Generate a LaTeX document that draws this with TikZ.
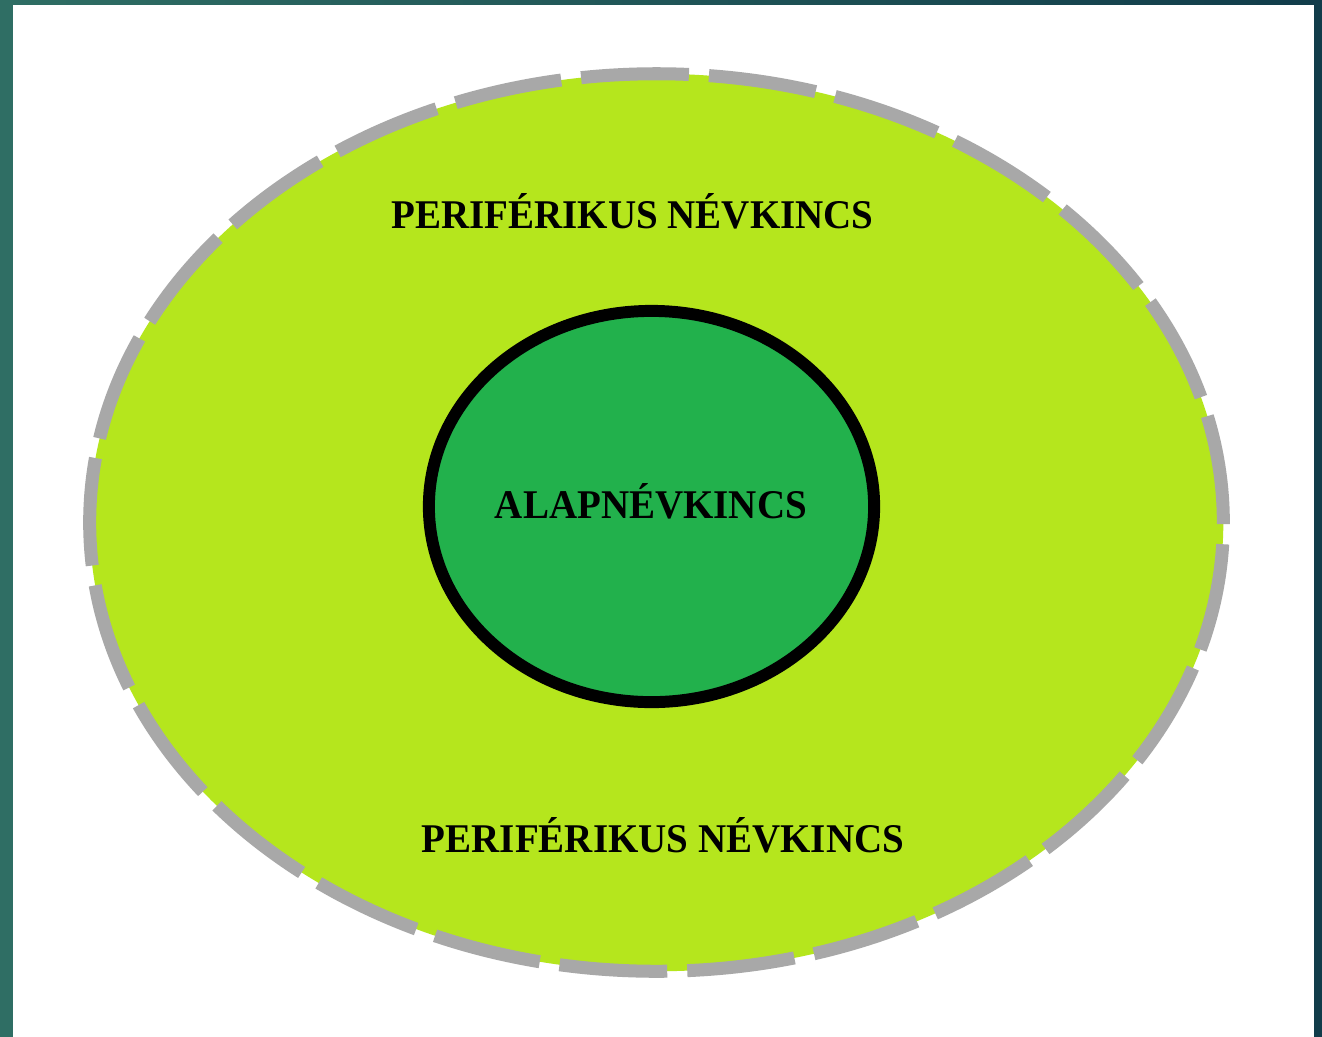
\documentclass[tikz,border=0pt]{standalone}
\usepackage{fontspec}
\setmainfont{Liberation Serif}
\newfontfamily\zonefont[FakeStretch=0.956]{Liberation Serif}
\usepackage{tikz}
\usetikzlibrary{positioning}
\usetikzlibrary{shapes.geometric}
\definecolor{framedark}{RGB}{17,60,74}
\definecolor{framelight}{RGB}{47,110,100}
\definecolor{limegreen}{RGB}{181,230,29}
\definecolor{coregreen}{RGB}{34,177,76}
\definecolor{ringgray}{RGB}{168,168,168}
\tikzset {
  % outer zone, dashed grey rim
  periphery/.style = {draw=ringgray, fill=limegreen, ellipse, inner sep=0pt,
    line width=3.7pt, dash pattern=on 30.7pt off 5.7pt},
  % inner core, thick black rim
  core/.style = {draw=black, fill=coregreen, ellipse, inner sep=0pt, line width=3.4pt},
  % labels
  label/.style = {font=\zonefont\fontsize{11.6}{13}\selectfont\bfseries, inner sep=0pt, anchor=base},
}
\begin{document}
\begin{tikzpicture}[x=0.01cm, y=-0.01cm]
      \useasboundingbox (0,0) rectangle (1322,1036);
      \shade[left color=framelight, right color=framedark] (0,0) rectangle (1322,1036);
      \fill[white] (13,5) rectangle (1314,1045);

      \node[periphery, minimum width=11.33cm, minimum height=8.97cm] (outer) at (656.5,522.5) {};
      \node[core, minimum width=4.45cm, minimum height=3.91cm] (inner) at (651.5,506.5) {};

      \node[label] (toptext) at (632.5,228) {PERIFÉRIKUS NÉVKINCS};
      \node[label] (coretext) at (651,518) {ALAPNÉVKINCS};
      \node[label] (bottomtext) at (663,852) {PERIFÉRIKUS NÉVKINCS};
    \end{tikzpicture}
\end{document}
